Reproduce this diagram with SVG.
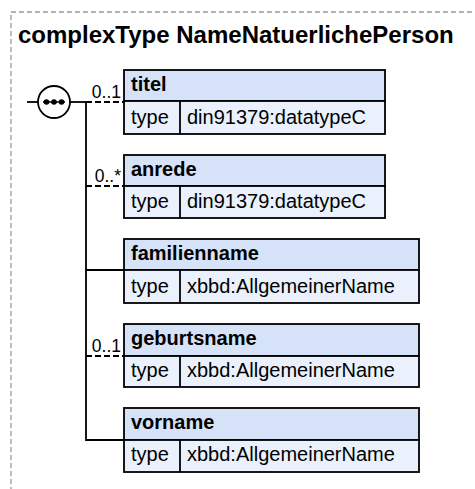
<svg xmlns="http://www.w3.org/2000/svg" width="475" height="489" viewBox="0 0 475 489">
<style>
.frame{fill:none;stroke:#999;stroke-width:1.3;stroke-dasharray:5,3}
.title{font-family:"Liberation Sans",Arial,sans-serif;font-weight:bold;font-size:24px;fill:#000}
.hdr{fill:#d6e2f8;stroke:#000;stroke-width:1.8}
.row{fill:#eaf1fc;stroke:#000;stroke-width:1.8}
.name{font-family:"Liberation Sans",Arial,sans-serif;font-weight:bold;font-size:20px;fill:#000}
.txt{font-family:"Liberation Sans",Arial,sans-serif;font-size:20px;fill:#000}
.mult{font-family:"Liberation Sans",Arial,sans-serif;font-size:17.5px;fill:#000;text-anchor:end}
.solid{fill:none;stroke:#000;stroke-width:1.8}
.dash{fill:none;stroke:#000;stroke-width:1.8;stroke-dasharray:6,3}
</style>
<rect class="frame" x="11" y="12" width="520" height="520"/>
<text class="title" x="18" y="43">complexType NameNatuerlichePerson</text>
<g id="connectors">
<line class="solid" x1="27" y1="102" x2="38" y2="102"/>
<line class="solid" x1="70" y1="102" x2="86" y2="102"/>
<polyline class="solid" points="86,102 86,440 124,440"/>
<line class="solid" x1="86" y1="270" x2="124" y2="270"/>
<line class="dash" x1="86" y1="102" x2="124" y2="102"/>
<line class="dash" x1="86" y1="186" x2="124" y2="186"/>
<line class="dash" x1="86" y1="356" x2="124" y2="356"/>
<text class="mult" x="121" y="98">0..1</text>
<text class="mult" x="121" y="182">0..*</text>
<text class="mult" x="121" y="352">0..1</text>
</g>
<g id="sequence">
<circle cx="54" cy="102" r="16" fill="#fff" stroke="#000" stroke-width="1.8"/>
<line x1="43" y1="102" x2="65" y2="102" stroke="#000" stroke-width="1.5"/>
<circle cx="46.5" cy="102" r="2.8" fill="#000"/>
<circle cx="54" cy="102" r="2.8" fill="#000"/>
<circle cx="61.5" cy="102" r="2.8" fill="#000"/>
</g>
<g id="titel">
<rect class="hdr" x="124" y="70" width="261" height="31"/>
<rect class="row" x="124" y="101" width="261" height="33"/>
<line class="solid" x1="180" y1="101" x2="180" y2="134"/>
<text class="name" x="131" y="91">titel</text>
<text class="txt" x="131" y="124">type</text>
<text class="txt" x="187" y="124">din91379:datatypeC</text>
</g>
<g id="anrede">
<rect class="hdr" x="124" y="155" width="261" height="31"/>
<rect class="row" x="124" y="186" width="261" height="32"/>
<line class="solid" x1="180" y1="186" x2="180" y2="218"/>
<text class="name" x="131" y="176">anrede</text>
<text class="txt" x="131" y="208">type</text>
<text class="txt" x="187" y="208">din91379:datatypeC</text>
</g>
<g id="familienname">
<rect class="hdr" x="124" y="239" width="295" height="31"/>
<rect class="row" x="124" y="270" width="295" height="33"/>
<line class="solid" x1="180" y1="270" x2="180" y2="303"/>
<text class="name" x="131" y="260">familienname</text>
<text class="txt" x="131" y="293">type</text>
<text class="txt" x="187" y="293">xbbd:AllgemeinerName</text>
</g>
<g id="geburtsname">
<rect class="hdr" x="124" y="324" width="295" height="32"/>
<rect class="row" x="124" y="356" width="295" height="31"/>
<line class="solid" x1="180" y1="356" x2="180" y2="387"/>
<text class="name" x="131" y="345">geburtsname</text>
<text class="txt" x="131" y="377">type</text>
<text class="txt" x="187" y="377">xbbd:AllgemeinerName</text>
</g>
<g id="vorname">
<rect class="hdr" x="124" y="408" width="295" height="32"/>
<rect class="row" x="124" y="440" width="295" height="32"/>
<line class="solid" x1="180" y1="440" x2="180" y2="472"/>
<text class="name" x="131" y="429">vorname</text>
<text class="txt" x="131" y="461">type</text>
<text class="txt" x="187" y="461">xbbd:AllgemeinerName</text>
</g>
</svg>
